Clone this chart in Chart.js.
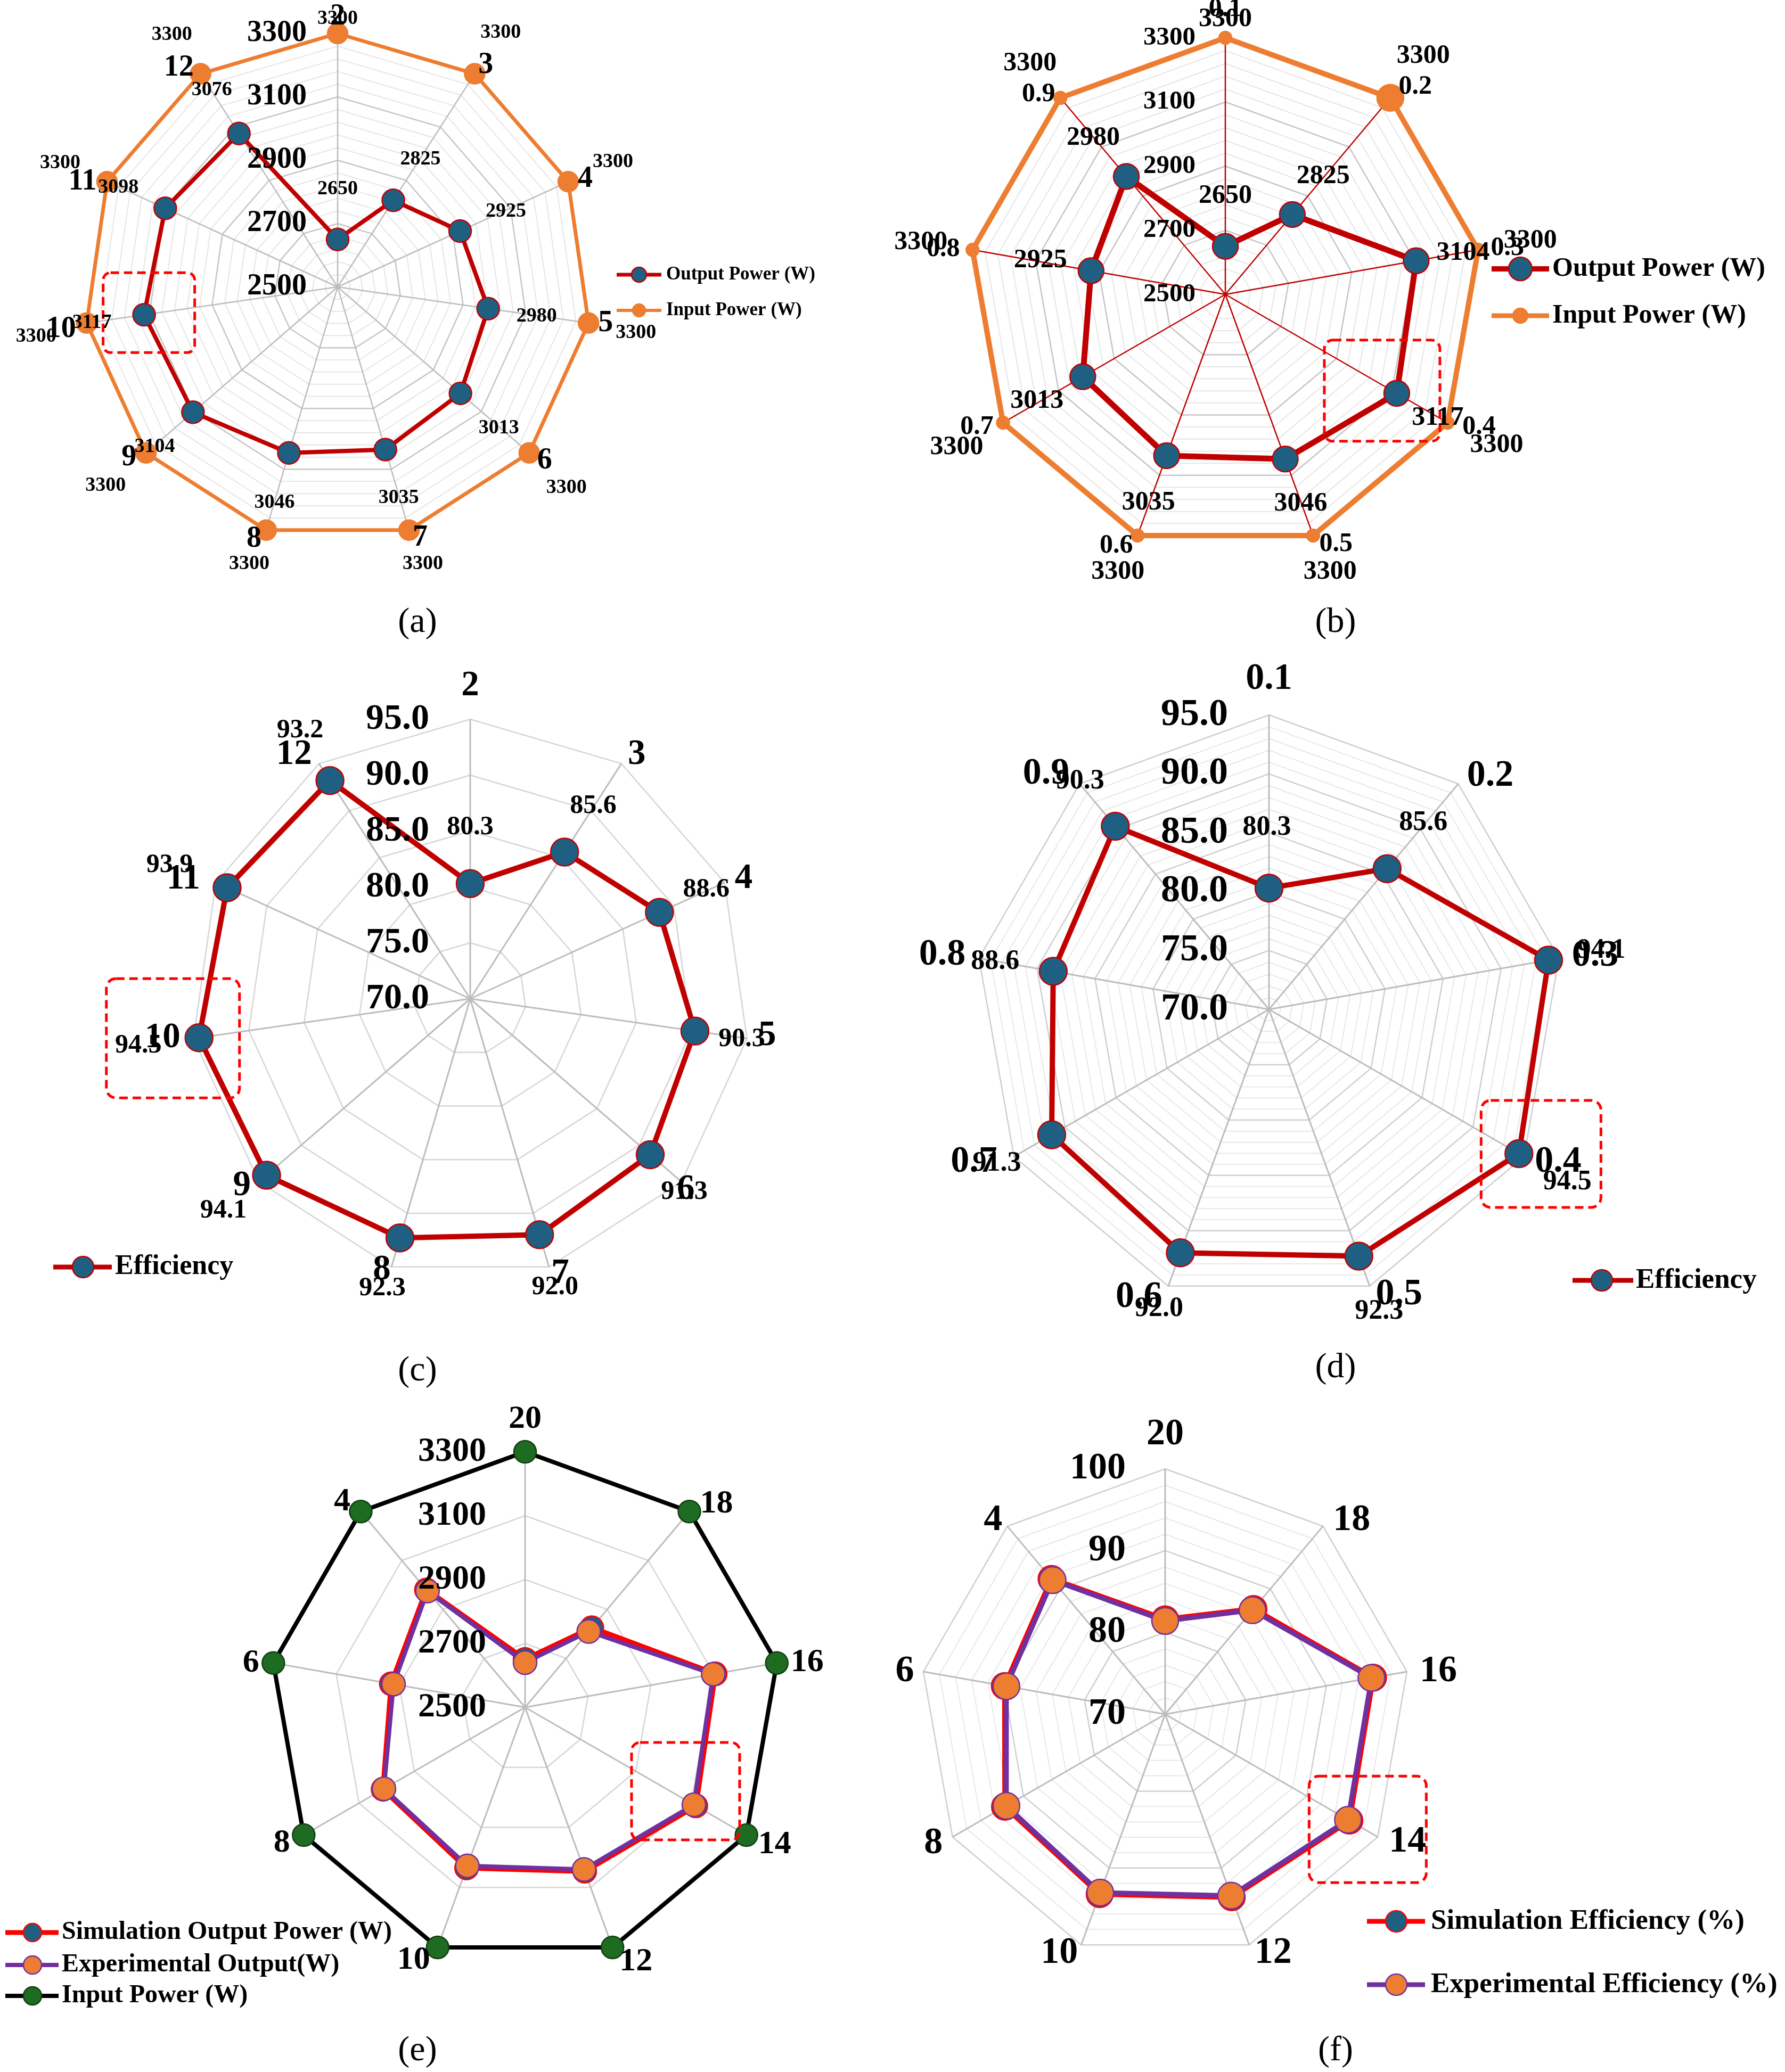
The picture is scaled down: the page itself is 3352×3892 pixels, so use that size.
<!DOCTYPE html>
<html>
<head>
<meta charset="utf-8">
<script src="https://cdn.jsdelivr.net/npm/chart.js"></script>
<style>
  body { margin: 0; background: #fff; }
  #page { position: relative; width: 3352px; height: 3892px; background: #fff; overflow: hidden; }
  #page canvas { position: absolute; }
  .cap { position: absolute; font: 66px "Liberation Serif", serif; color: #000; transform: translate(-50%, -50%); white-space: nowrap; }
</style>
</head>
<body>
<div id="page"></div>
<script>
// ---- data ----
const loadA = ['2', '3', '4', '5', '6', '7', '8', '9', '10', '11', '12'];
const outputA = [2650, 2825, 2925, 2980, 3013, 3035, 3046, 3104, 3117, 3098, 3076];
const inputA = [3300, 3300, 3300, 3300, 3300, 3300, 3300, 3300, 3300, 3300, 3300];

const loadB = ['0.1', '0.2', '0.3', '0.4', '0.5', '0.6', '0.7', '0.8', '0.9'];
const outputB = [2650, 2825, 3104, 3117, 3046, 3035, 3013, 2925, 2980];
const inputB = [3300, 3300, 3300, 3300, 3300, 3300, 3300, 3300, 3300];

const effC = [80.3, 85.6, 88.6, 90.3, 91.3, 92.0, 92.3, 94.1, 94.5, 93.9, 93.2];
const effD = [80.3, 85.6, 94.1, 94.5, 92.3, 92.0, 91.3, 88.6, 90.3];

const loadE = ['20', '18', '16', '14', '12', '10', '8', '6', '4'];
const simOutE = [2650, 2825, 3104, 3117, 3046, 3035, 3013, 2925, 2980];
const expOutE = [2640, 2810, 3098, 3110, 3040, 3028, 3010, 2918, 2975];
const inputE = [3300, 3300, 3300, 3300, 3300, 3300, 3300, 3300, 3300];
const simEffF = [81.6, 86.8, 95.8, 96.0, 93.8, 93.4, 92.6, 89.9, 91.6];
const expEffF = [81.4, 86.6, 95.6, 95.8, 93.6, 93.2, 92.4, 89.7, 91.4];

const powerTicks = [2500, 2700, 2900, 3100, 3300];
const effTicks = [70, 75, 80, 85, 90, 95];
const effTicksF = [70, 80, 90, 100];

// ---- styles ----
const SERIF = '"Liberation Serif", "Times New Roman", serif';
const DARKRED = '#C00000';
const RED = '#FF0000';
const TEAL = '#1F5F82';
const ORANGE = '#ED7D31';
const PURPLE = '#7030A0';
const GREEN = '#1E6B22';

function series(label, data, color, width, fill, border, radius, extra) {
  return Object.assign({
    label: label, data: data,
    borderColor: color, borderWidth: width,
    backgroundColor: 'rgba(0,0,0,0)', fill: false,
    pointBackgroundColor: fill, pointBorderColor: border, pointBorderWidth: 2.5,
    pointRadius: radius, pointHoverRadius: radius,
    clip: false
  }, extra || {});
}

const panels = [
  { // (a)
    id: 'ca', left: 0, top: 0, w: 1676, h: 1240, cx: 634, cy: 539, r: 476,
    labels: loadA, min: 2500, max: 3300, step: 40, major: 200,
    gridMinor: '#E6E6E6', gridMajor: '#C6C6C6', angle: '#BDBDBD', angleW: 2.5,
    datasets: [
      series('Output Power (W)', outputA, DARKRED, 8, TEAL, DARKRED, 21),
      series('Input Power (W)', inputA, ORANGE, 7, ORANGE, ORANGE, 19)
    ],
    ticks: powerTicks, tickDigits: 0, tickSize: 56, tickGap: 58,
    catSize: 56,
    catOff: [[0, -31], [21, -16], [32, -5], [32, 1], [29, 15], [21, 15], [-23, 17], [-32, 9], [-48, 12], [-46, 0], [-41, -11]],
    values: [
      { ds: 0, size: 38, digits: 0, off: [[0, -95], [51, -77], [86, -37], [91, 15], [72, 65], [25, 91], [-27, 93], [-72, 65], [-98, 15], [-88, -39], [-51, -81]] },
      { ds: 1, size: 38, digits: 0, off: [[0, -28], [49, -77], [84, -37], [89, 18], [70, 65], [26, 63], [-32, 63], [-76, 61], [-95, 25], [-88, -35], [-54, -73]] }
    ],
    box: { ds: 0, index: 8, x0: -77, x1: 95, y0: -79, y1: 71, rad: 14 },
    leg: { x1: 1158, x2: 1242, xm: 1200, xt: 1251, size: 35 },
    legend: [{ ds: 0, y: 516, lw: 7, r: 14 }, { ds: 1, y: 583, lw: 6, r: 12 }]
  },
  { // (b)
    id: 'cb', left: 1676, top: 0, w: 1676, h: 1240, cx: 2301, cy: 553, r: 482,
    labels: loadB, min: 2500, max: 3300, step: 40, major: 200,
    gridMinor: '#E6E6E6', gridMajor: '#C6C6C6', angle: DARKRED, angleW: 2.5,
    datasets: [
      series('Output Power (W)', outputB, DARKRED, 11, TEAL, DARKRED, 24),
      series('Input Power (W)', inputB, ORANGE, 10, ORANGE, ORANGE, [12, 25, 12, 12, 12, 12, 12, 12, 12])
    ],
    ticks: powerTicks, tickDigits: 0, tickSize: 49, tickGap: 56,
    catSize: 50,
    catOff: [[0, -54], [47, -21], [55, -3], [59, 8], [43, 16], [-40, 19], [-49, 8], [-55, -1], [-41, -7]],
    values: [
      { ds: 0, size: 50, digits: 0, off: [[0, -95], [58, -72], [88, -15], [77, 46], [29, 84], [-34, 88], [-86, 46], [-95, -19], [-62, -72]] },
      { ds: 1, size: 50, digits: 0, off: [[0, -35], [62, -79], [98, -17], [92, 42], [32, 68], [-37, 68], [-87, 46], [-97, -14], [-57, -65]] }
    ],
    box: { ds: 0, index: 3, x0: -136, x1: 81, y0: -100, y1: 90, rad: 16 },
    leg: { x1: 2801, x2: 2909, xm: 2855, xt: 2915, size: 50 },
    legend: [{ ds: 0, y: 505, lw: 10, r: 22 }, { ds: 1, y: 593, lw: 9, r: 14 }]
  },
  { // (c)
    id: 'cc', left: 0, top: 1240, w: 1676, h: 1340, cx: 883, cy: 1876, r: 525,
    labels: loadA, min: 70, max: 95, step: 5, major: 5,
    gridMinor: '#D6D6D6', gridMajor: '#D6D6D6', angle: '#BDBDBD', angleW: 3,
    datasets: [series('Efficiency', effC, DARKRED, 10, TEAL, DARKRED, 26)],
    ticks: effTicks, tickDigits: 1, tickSize: 68, tickGap: 77,
    catSize: 67,
    catOff: [[0, -62], [29, -17], [36, -7], [38, -5], [8, 15], [21, 13], [-18, 6], [-32, 8], [-58, -1], [-61, -6], [-47, -17]],
    values: [
      { ds: 0, size: 50, digits: 1, off: [[0, -106], [54, -86], [88, -43], [88, 15], [64, 70], [29, 99], [-33, 95], [-81, 67], [-114, 15], [-108, -42], [-56, -94]] }
    ],
    box: { ds: 0, index: 8, x0: -174, x1: 76, y0: -111, y1: 113, rad: 18 },
    leg: { x1: 100, x2: 210, xm: 156, xt: 216, size: 52 },
    legend: [{ ds: 0, y: 2380, lw: 9, r: 20 }]
  },
  { // (d)
    id: 'cd', left: 1676, top: 1240, w: 1676, h: 1340, cx: 2383, cy: 1896, r: 553,
    labels: loadB, min: 70, max: 95, step: 1, major: 5,
    gridMinor: '#E8E8E8', gridMajor: '#CFCFCF', angle: '#BDBDBD', angleW: 3,
    datasets: [series('Efficiency', effD, DARKRED, 10, TEAL, DARKRED, 26)],
    ticks: effTicks, tickDigits: 1, tickSize: 72, tickGap: 77,
    catSize: 70,
    catOff: [[0, -67], [60, -14], [68, -4], [64, 10], [55, 16], [-55, 21], [-75, 10], [-69, -6], [-63, -18]],
    values: [
      { ds: 0, size: 52, digits: 1, off: [[-4, -114], [68, -86], [99, -18], [91, 54], [38, 104], [-40, 105], [-103, 54], [-109, -18], [-66, -84]] }
    ],
    box: { ds: 0, index: 3, x0: -71, x1: 154, y0: -100, y1: 101, rad: 18 },
    leg: { x1: 2953, x2: 3067, xm: 3008, xt: 3072, size: 53 },
    legend: [{ ds: 0, y: 2405, lw: 9, r: 20 }]
  },
  { // (e)
    id: 'ce', left: 0, top: 2580, w: 1676, h: 1312, cx: 986, cy: 3207, r: 480,
    labels: loadE, min: 2500, max: 3300, step: 200, major: 200,
    gridMinor: '#D6D6D6', gridMajor: '#D6D6D6', angle: '#BDBDBD', angleW: 3,
    datasets: [
      series('Simulation Output Power (W)', simOutE, RED, 10, TEAL, RED, 22, { order: 2 }),
      series('Experimental Output(W)', expOutE, PURPLE, 8, ORANGE, PURPLE, 22, { order: 1 }),
      series('Input Power (W)', inputE, '#000000', 8, GREEN, '#123d12', 21, { order: 3 })
    ],
    ticks: powerTicks, tickDigits: 0, tickSize: 64, tickGap: 73,
    catSize: 62,
    catOff: [[0, -61], [51, -14], [57, -1], [53, 18], [44, 27], [-45, 24], [-41, 15], [-42, 0], [-35, -18]],
    values: [],
    box: { ds: 1, index: 3, x0: -117, x1: 86, y0: -117, y1: 66, rad: 16 },
    leg: { x1: 10, x2: 110, xm: 61, xt: 116, size: 48 },
    legend: [{ ds: 0, y: 3630, lw: 9, r: 17 }, { ds: 1, y: 3691, lw: 8, r: 17 }, { ds: 2, y: 3749, lw: 8, r: 17 }]
  },
  { // (f)
    id: 'cf', left: 1676, top: 2580, w: 1676, h: 1312, cx: 2188, cy: 3220, r: 461,
    labels: loadE, min: 70, max: 100, step: 2, major: 10,
    gridMinor: '#E8E8E8', gridMajor: '#CFCFCF', angle: '#BDBDBD', angleW: 3,
    datasets: [
      series('Simulation Efficiency (%)', simEffF, RED, 10, TEAL, RED, 25, { order: 2 }),
      series('Experimental Efficiency (%)', expEffF, PURPLE, 9, ORANGE, PURPLE, 25, { order: 1 })
    ],
    ticks: effTicksF, tickDigits: 0, tickSize: 70, tickGap: 74,
    catSize: 70,
    catOff: [[0, -64], [54, -11], [59, 0], [56, 9], [45, 16], [-41, 16], [-36, 12], [-35, 0], [-27, -11]],
    values: [],
    box: { ds: 1, index: 3, x0: -73, x1: 147, y0: -82, y1: 118, rad: 18 },
    leg: { x1: 2567, x2: 2676, xm: 2622, xt: 2687, size: 53 },
    legend: [{ ds: 0, y: 3609, lw: 9, r: 20 }, { ds: 1, y: 3728, lw: 9, r: 20 }]
  }
];

const captions = [
  ['(a)', 784, 1165], ['(b)', 2508, 1165],
  ['(c)', 784, 2571], ['(d)', 2508, 2565],
  ['(e)', 784, 3848], ['(f)', 2508, 3848]
];

const panelById = {};

function roundRectPath(ctx, x, y, w, h, rad) {
  ctx.beginPath();
  ctx.moveTo(x + rad, y);
  ctx.lineTo(x + w - rad, y);
  ctx.arcTo(x + w, y, x + w, y + rad, rad);
  ctx.lineTo(x + w, y + h - rad);
  ctx.arcTo(x + w, y + h, x + w - rad, y + h, rad);
  ctx.lineTo(x + rad, y + h);
  ctx.arcTo(x, y + h, x, y + h - rad, rad);
  ctx.lineTo(x, y + rad);
  ctx.arcTo(x, y, x + rad, y, rad);
  ctx.closePath();
}

// tick labels, category labels, value labels, highlight box and legend
const overlay = {
  id: 'overlay',
  afterDraw(chart) {
    const P = panelById[chart.canvas.id];
    if (!P) return;
    const ctx = chart.ctx;
    const sc = chart.scales.r;
    const ox = P.left, oy = P.top;
    ctx.save();

    // red dashed box
    if (P.box) {
      const b = P.box;
      const v = chart.data.datasets[b.ds].data[b.index];
      const p = sc.getPointPositionForValue(b.index, v);
      roundRectPath(ctx, p.x + b.x0, p.y + b.y0, b.x1 - b.x0, b.y1 - b.y0, b.rad);
      ctx.setLineDash([16, 9]);
      ctx.lineWidth = 5;
      ctx.strokeStyle = RED;
      ctx.stroke();
      ctx.setLineDash([]);
    }

    ctx.fillStyle = '#000';
    ctx.textBaseline = 'middle';

    // axis tick labels, left of the vertical axis
    ctx.textAlign = 'right';
    ctx.font = 'bold ' + P.tickSize + 'px ' + SERIF;
    P.ticks.forEach(v => {
      const y = sc.yCenter - sc.getDistanceFromCenterForValue(v);
      ctx.fillText(v.toFixed(P.tickDigits), sc.xCenter - P.tickGap, y);
    });

    // category labels
    ctx.textAlign = 'center';
    ctx.font = 'bold ' + P.catSize + 'px ' + SERIF;
    chart.data.labels.forEach((lab, i) => {
      const p = sc.getPointPosition(i, sc.drawingArea);
      const d = P.catOff[i];
      ctx.fillText(lab, p.x + d[0], p.y + d[1]);
    });

    // value labels
    P.values.forEach(vl => {
      const ds = chart.data.datasets[vl.ds];
      ctx.font = 'bold ' + vl.size + 'px ' + SERIF;
      ds.data.forEach((v, i) => {
        const p = sc.getPointPositionForValue(i, v);
        const d = vl.off[i];
        ctx.fillText(v.toFixed(vl.digits), p.x + d[0], p.y + d[1]);
      });
    });

    // legend
    P.legend.forEach(it => {
      const ds = chart.data.datasets[it.ds];
      const y = it.y - oy;
      ctx.strokeStyle = ds.borderColor;
      ctx.lineWidth = it.lw;
      ctx.beginPath();
      ctx.moveTo(P.leg.x1 - ox, y);
      ctx.lineTo(P.leg.x2 - ox, y);
      ctx.stroke();
      ctx.beginPath();
      ctx.arc(P.leg.xm - ox, y, it.r, 0, Math.PI * 2);
      ctx.fillStyle = ds.pointBackgroundColor;
      ctx.fill();
      ctx.lineWidth = 2.5;
      ctx.strokeStyle = ds.pointBorderColor;
      ctx.stroke();
      ctx.fillStyle = '#000';
      ctx.textAlign = 'left';
      ctx.font = 'bold ' + P.leg.size + 'px ' + SERIF;
      ctx.fillText(ds.label, P.leg.xt - ox, y);
    });

    ctx.restore();
  }
};

const page = document.getElementById('page');

panels.forEach(P => {
  panelById[P.id] = P;
  const canvas = document.createElement('canvas');
  canvas.id = P.id;
  canvas.width = P.w;
  canvas.height = P.h;
  canvas.style.left = P.left + 'px';
  canvas.style.top = P.top + 'px';
  page.appendChild(canvas);

  const isMajor = v => {
    const q = (v - P.min) / P.major;
    return Math.abs(q - Math.round(q)) < 1e-6;
  };

  new Chart(canvas.getContext('2d'), {
    type: 'radar',
    data: { labels: P.labels, datasets: P.datasets },
    options: {
      responsive: false,
      animation: false,
      devicePixelRatio: 1,
      events: [],
      layout: {
        padding: {
          left: P.cx - P.r - P.left,
          top: P.cy - P.r - P.top,
          right: P.left + P.w - (P.cx + P.r),
          bottom: P.top + P.h - (P.cy + P.r)
        }
      },
      elements: { line: { tension: 0 } },
      plugins: { legend: { display: false }, tooltip: { enabled: false } },
      scales: {
        r: {
          min: P.min,
          max: P.max,
          beginAtZero: false,
          ticks: { display: false, stepSize: P.step },
          pointLabels: { display: false },
          grid: {
            color: c => (c.tick && isMajor(c.tick.value)) ? P.gridMajor : P.gridMinor,
            lineWidth: c => (c.tick && isMajor(c.tick.value)) ? 2.5 : 2
          },
          angleLines: { color: P.angle, lineWidth: P.angleW }
        }
      }
    },
    plugins: [overlay]
  });
});

captions.forEach(([t, x, y]) => {
  const d = document.createElement('div');
  d.className = 'cap';
  d.textContent = t;
  d.style.left = x + 'px';
  d.style.top = y + 'px';
  page.appendChild(d);
});
</script>
</body>
</html>
